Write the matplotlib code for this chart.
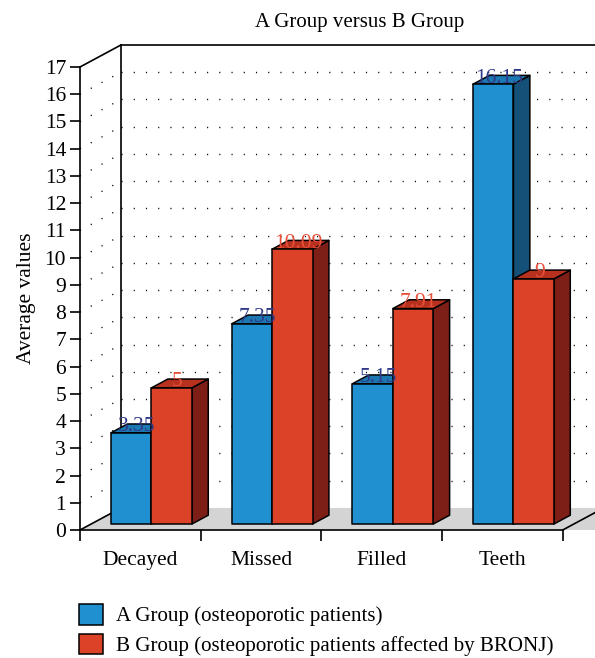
import numpy as np
import matplotlib.pyplot as plt
from matplotlib.patches import Polygon, Patch

categories = ['Decayed', 'Missed', 'Filled', 'Teeth']
group_a = [3.35, 7.35, 5.15, 16.15]
group_b = [5, 10.09, 7.91, 9]
series_names = ['A Group (osteoporotic patients)',
                'B Group (osteoporotic patients affected by BRONJ)']
y_max = 17

# colours: front, top, side faces and the value text
blue = ('#2190d0', '#1c78b2', '#145078', '#2e3a87')
red = ('#dc4228', '#b8311f', '#7d1f17', '#e8503a')

# depth of the pseudo-3D box, in data units
DX, DY = 0.34, 0.81
F0, F1 = 0.27, 0.67   # front / back of the bars as a fraction of the depth
BAR_W = 0.335
FONT = 'Liberation Serif'
FS = 15.5

plt.rcParams['font.family'] = FONT
fig = plt.figure(figsize=(5.95, 6.58), dpi=100)
ax = fig.add_axes([80 / 595, 128 / 658, 482.7 / 595, 463 / 658])
ax.set_xlim(0, len(categories))
ax.set_ylim(0, y_max)

n = len(categories)
far_right = n + 1

# floor
ax.add_patch(Polygon([(0, 0), (far_right, 0), (far_right + DX, DY), (DX, DY)],
                     closed=True, facecolor='#d4d4d4', edgecolor='none',
                     clip_on=False, zorder=0))
ax.plot([0, DX], [0, DY], color='black', lw=1.2, clip_on=False, zorder=1)
ax.plot([n, n + DX], [0, DY], color='black', lw=1.2, clip_on=False, zorder=1)

# back wall edges
ax.plot([DX, DX], [DY, y_max + DY], color='black', lw=1.2, clip_on=False, zorder=1)
ax.plot([DX, far_right], [y_max + DY, y_max + DY], color='black', lw=1.2,
        clip_on=False, zorder=1)
ax.plot([0, DX], [y_max, y_max + DY], color='black', lw=1.2, clip_on=False, zorder=1)

# dotted grid on back and left walls
for k in range(1, y_max):
    ax.plot([DX, far_right], [k + DY, k + DY], color='black', lw=1.0,
            ls=(0, (0.8, 8)), clip_on=False, zorder=0.5)
    ax.plot([0, DX], [k, k + DY], color='black', lw=1.0,
            ls=(0, (0.8, 8)), clip_on=False, zorder=0.5)


def draw_bar(x0, v, cols):
    ox, oy = F0 * DX, F0 * DY
    bx, by = (F1 - F0) * DX, (F1 - F0) * DY
    xl, xr = x0 + ox, x0 + BAR_W + ox
    front = [(xl, oy), (xr, oy), (xr, v + oy), (xl, v + oy)]
    top = [(xl, v + oy), (xr, v + oy), (xr + bx, v + oy + by), (xl + bx, v + oy + by)]
    side = [(xr, oy), (xr + bx, oy + by), (xr + bx, v + oy + by), (xr, v + oy)]
    for pts, c in ((side, cols[2]), (top, cols[1]), (front, cols[0])):
        ax.add_patch(Polygon(pts, closed=True, facecolor=c, edgecolor='black',
                             lw=1.1, joinstyle='round', clip_on=False, zorder=2))
    label = f'{v:g}'
    ax.text(xl + BAR_W / 2 + bx / 2 - 0.02, v + oy + by / 2 - 0.1, label,
            ha='center', va='baseline', color=cols[3], fontsize=FS,
            zorder=3, clip_on=False)


for i in range(n):
    start = i + 0.5 - BAR_W
    draw_bar(start, group_a[i], blue)
    draw_bar(start + BAR_W, group_b[i], red)

# axes styling
for s in ('top', 'right'):
    ax.spines[s].set_visible(False)
for s in ('left', 'bottom'):
    ax.spines[s].set_linewidth(1.2)
ax.set_yticks(range(0, y_max + 1))
ax.set_xticks(range(0, n + 1))
ax.set_xticks(np.arange(n) + 0.5, minor=True)
ax.set_xticklabels([])
ax.set_xticklabels(categories, minor=True)
ax.tick_params(axis='x', which='minor', length=0, pad=15, labelsize=FS)
ax.tick_params(axis='x', which='major', length=8, width=1.2)
ax.tick_params(axis='y', length=7, width=1.2, labelsize=FS, pad=3)
ax.set_ylabel('Average values', fontsize=FS, labelpad=6)

fig.text(360 / 595, 1 - 22 / 658, 'A Group versus B Group', ha='center',
         va='center', fontsize=15)

handles = [Patch(facecolor=blue[0], edgecolor='black', lw=1.1),
           Patch(facecolor=red[0], edgecolor='black', lw=1.1)]
fig.legend(handles, series_names, loc='upper left',
           bbox_to_anchor=(79 / 595, 1 - 604 / 658), frameon=False,
           fontsize=15.1, handlelength=1.13, handleheight=1.13,
           handletextpad=0.62, labelspacing=0.36, borderaxespad=0,
           borderpad=0)

fig.savefig('out.png', dpi=100)
